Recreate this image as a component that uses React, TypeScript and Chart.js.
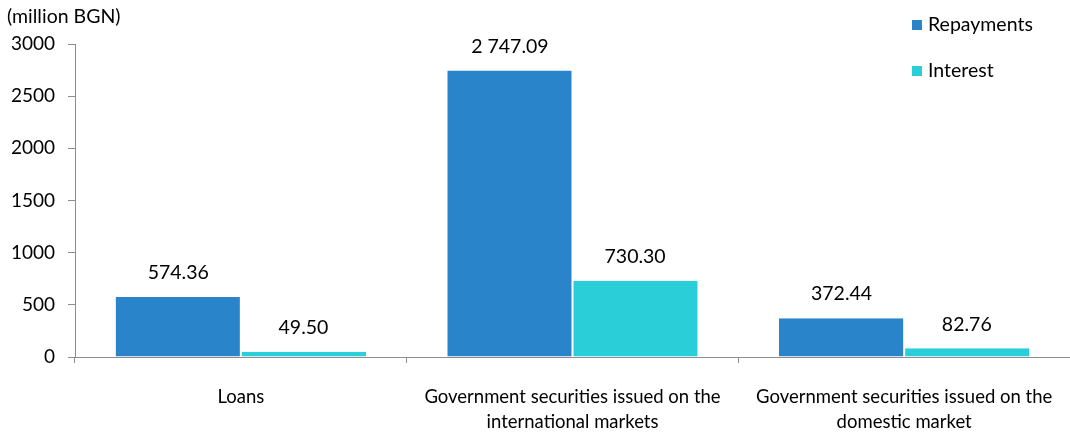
import React, { useEffect, useRef } from "react";
import { Chart, registerables } from "chart.js";

Chart.register(...registerables);

const categories: (string | string[])[] = [
  "Loans",
  ["Government securities issued on the", "international markets"],
  ["Government securities issued on the", "domestic market"],
];
const seriesNames = ["Repayments", "Interest"];
const repayments = [574.36, 2747.09, 372.44];
const interest = [49.5, 730.3, 82.76];
const yTicks = [0, 500, 1000, 1500, 2000, 2500, 3000];
const unitLabel = "(million BGN)";

const colors = ["#2984C9", "#29CED8"];
const FONT = "Lato, 'Open Sans', sans-serif";

function fmt(v: number): string {
  const [i, d] = v.toFixed(2).split(".");
  return i.replace(/\B(?=(\d{3})+(?!\d))/g, " ") + "." + d;
}

const overlayPlugin = {
  id: "overlay",
  afterDatasetsDraw(chart: any) {
    const ctx = chart.ctx;
    ctx.save();
    ctx.fillStyle = "#000";
    ctx.font = `19.5px ${FONT}`;
    ctx.textAlign = "center";
    ctx.textBaseline = "middle";
    chart.data.datasets.forEach((ds: any, di: number) => {
      const meta = chart.getDatasetMeta(di);
      meta.data.forEach((bar: any, i: number) => {
        ctx.fillText(fmt(ds.data[i]), bar.x, bar.y - 24);
      });
    });
    // unit label
    ctx.textAlign = "left";
    ctx.fillText(unitLabel, 7, 17);
    // legend
    const lx = 912;
    const ly = [25, 71];
    seriesNames.forEach((n, k) => {
      ctx.fillStyle = colors[k];
      ctx.fillRect(lx, ly[k] - 5, 10, 10);
      ctx.fillStyle = "#000";
      ctx.fillText(n, lx + 16, ly[k]);
    });
    ctx.restore();
  },
};

export default function App() {
  const ref = useRef<HTMLCanvasElement | null>(null);
  useEffect(() => {
    if (!ref.current) return;
    const chart = new Chart(ref.current, {
      type: "bar",
      data: {
        labels: categories,
        datasets: [
          {
            label: seriesNames[0],
            data: repayments,
            backgroundColor: colors[0],
            borderColor: "#ffffff",
            borderWidth: { left: 0, right: 1, top: 0, bottom: 0 },
            categoryPercentage: 0.755,
            barPercentage: 1,
          },
          {
            label: seriesNames[1],
            data: interest,
            backgroundColor: colors[1],
            borderColor: "#ffffff",
            borderWidth: { left: 1, right: 0, top: 0, bottom: 0 },
            categoryPercentage: 0.755,
            barPercentage: 1,
          },
        ],
      },
      options: {
        animation: false,
        responsive: false,
        devicePixelRatio: 1,
        layout: { padding: { top: 44, right: -6, left: 0, bottom: 0 } },
        plugins: {
          legend: { display: false },
          tooltip: { enabled: false },
        },
        scales: {
          x: {
            grid: {
              display: true,
              drawOnChartArea: false,
              drawTicks: true,
              tickLength: 6,
              color: "#8c8c8c",
              offset: true,
            },
            border: { display: true, color: "#8c8c8c", width: 1 },
            ticks: {
              color: "#000",
              font: { family: FONT, size: 18.5, lineHeight: 1.35 },
              padding: 22,
              maxRotation: 0,
              autoSkip: false,
            },
            afterFit(scale: any) {
              scale.height = 436 - 357;
              scale.paddingLeft = 0;
              scale.paddingRight = 0;
            },
          },
          y: {
            min: 0,
            max: 3000,
            afterBuildTicks(scale: any) {
              scale.ticks = yTicks.map((v) => ({ value: v }));
            },
            grid: {
              display: true,
              drawOnChartArea: false,
              drawTicks: true,
              tickLength: 7,
              color: "#8c8c8c",
            },
            border: { display: true, color: "#8c8c8c", width: 1 },
            ticks: {
              color: "#000",
              font: { family: FONT, size: 19 },
              padding: 13,
              callback: (v: any) => String(v),
            },
            afterFit(scale: any) {
              scale.width = 75;
            },
          },
        },
      },
      plugins: [overlayPlugin],
    });
    return () => chart.destroy();
  }, []);
  return (
    <div style={{ position: "absolute", left: 0, top: 0, width: 1070, height: 436 }}>
      <canvas ref={ref} width={1070} height={436} style={{ width: 1070, height: 436 }} />
    </div>
  );
}
